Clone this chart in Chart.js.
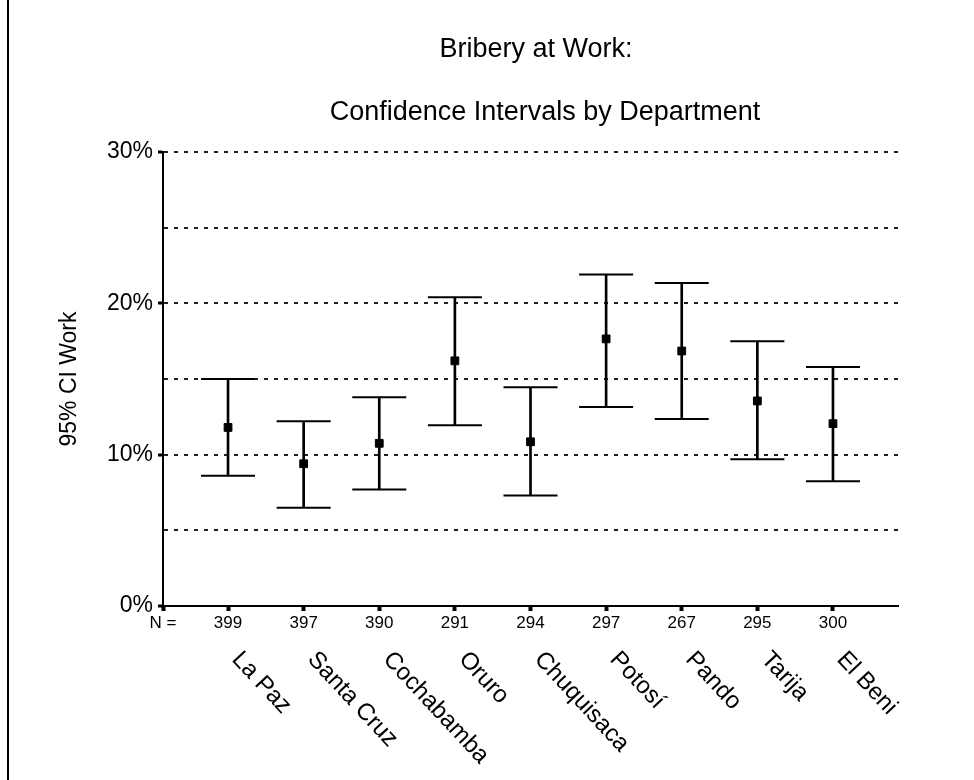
<!DOCTYPE html>
<html>
<head>
<meta charset="utf-8">
<title>Bribery at Work</title>
<script src="https://cdn.jsdelivr.net/npm/chart.js@4/dist/chart.umd.min.js"></script>
<style>
  html, body { margin: 0; padding: 0; background: #fff; }
  #frame { position: relative; width: 974px; height: 780px; }
  /* thin rule down the left edge, as in the scanned page */
  #frame::before { content: ''; position: absolute; left: 7px; top: 0; bottom: 0; width: 2px; background: #000; }
  canvas { display: block; }
</style>
</head>
<body>
<div id="frame"><canvas id="ci-chart" width="974" height="780"></canvas></div>
<script>
  // departments and sample sizes
  var DEPARTMENTS = ['La Paz', 'Santa Cruz', 'Cochabamba', 'Oruro', 'Chuquisaca', 'Potosí', 'Pando', 'Tarija', 'El Beni'];
  var N_SIZES = [399, 397, 390, 291, 294, 297, 267, 295, 300];

  // 95% CI, in percent
  var MEAN  = [11.8, 9.4, 10.75, 16.2, 10.85, 17.65, 16.85, 13.55, 12.05];
  var LOWER = [8.6, 6.5, 7.7, 11.95, 7.3, 13.15, 12.35, 9.7, 8.25];
  var UPPER = [15.0, 12.2, 13.8, 20.4, 14.45, 21.9, 21.35, 17.5, 15.8];

  var TITLE_LINES = ['Bribery at Work:', 'Confidence Intervals by Department'];
  var Y_TITLE = '95% CI Work';
  var N_LABEL = 'N =';

  var FONT = '"Liberation Sans", Arial, sans-serif';
  var X_MIN = -0.86, X_MAX = 8.86;

  function pts(values) {
    return values.map(function (v, i) { return { x: i, y: v }; });
  }

  // two title lines, each centred on its own
  var headings = {
    id: 'headings',
    afterDraw: function (chart) {
      var ctx = chart.ctx;
      ctx.save();
      ctx.fillStyle = '#000';
      ctx.font = '27px ' + FONT;
      ctx.textAlign = 'center';
      ctx.textBaseline = 'alphabetic';
      ctx.fillText(TITLE_LINES[0], 536, 57);
      ctx.fillText(TITLE_LINES[1], 545, 120);
      ctx.restore();
    }
  };

  // department names slanting down to the right under the N row
  var slantLabels = {
    id: 'slantLabels',
    afterDraw: function (chart) {
      var ctx = chart.ctx;
      var xs = chart.scales.x;
      ctx.save();
      ctx.fillStyle = '#000';
      ctx.font = '24px ' + FONT;
      ctx.textAlign = 'left';
      ctx.textBaseline = 'alphabetic';
      DEPARTMENTS.forEach(function (name, i) {
        ctx.save();
        ctx.translate(xs.getPixelForValue(i) + 3, 660);
        ctx.rotate(47 * Math.PI / 180);
        ctx.fillText(name, 0, 0);
        ctx.restore();
      });
      ctx.restore();
    }
  };

  new Chart(document.getElementById('ci-chart'), {
    type: 'scatter',
    data: {
      datasets: [
        {
          label: 'mean',
          data: pts(MEAN),
          pointStyle: 'rect',
          pointRadius: 5.5,
          backgroundColor: '#000',
          borderColor: '#000',
          borderWidth: 1
        },
        {
          label: 'upper',
          data: pts(UPPER),
          pointStyle: 'line',
          pointRadius: 27,
          borderColor: '#000',
          borderWidth: 2
        },
        {
          label: 'lower',
          data: pts(LOWER),
          pointStyle: 'line',
          pointRadius: 27,
          borderColor: '#000',
          borderWidth: 2
        },
        {
          type: 'bar',
          label: 'range',
          data: LOWER.map(function (lo, i) { return { x: i, y: [lo, UPPER[i]] }; }),
          backgroundColor: '#000',
          borderWidth: 0,
          barThickness: 2
        }
      ]
    },
    options: {
      responsive: false,
      animation: false,
      layout: { padding: { top: 152, right: 76, bottom: 0, left: 0 } },
      plugins: {
        legend: { display: false },
        tooltip: { enabled: false },
        title: { display: false }
      },
      scales: {
        x: {
          type: 'linear',
          min: X_MIN,
          max: X_MAX,
          offset: false,
          afterBuildTicks: function (axis) {
            axis.ticks = [{ value: X_MIN }].concat(N_SIZES.map(function (_, i) { return { value: i }; }));
          },
          afterFit: function (axis) { axis.height = 174; },
          ticks: {
            autoSkip: false,
            maxRotation: 0,
            minRotation: 0,
            padding: 2,
            color: '#000',
            font: { family: FONT, size: 17 },
            callback: function (v) { return v === X_MIN ? N_LABEL : N_SIZES[v]; }
          },
          grid: {
            offset: false,
            drawOnChartArea: false,
            drawTicks: true,
            tickLength: 5,
            tickWidth: 4,
            tickColor: '#000'
          },
          border: { display: true, color: '#000', width: 2 }
        },
        y: {
          min: 0,
          max: 30,
          afterFit: function (axis) { axis.width = 163; },
          ticks: {
            stepSize: 5,
            padding: 5,
            color: '#000',
            font: { family: FONT, size: 23 },
            callback: function (v) { return v % 10 === 0 ? v + '%' : ''; }
          },
          grid: {
            color: '#222',
            lineWidth: 2,
            drawTicks: true,
            tickLength: 5,
            tickWidth: 3,
            tickColor: function (c) { return c.tick && c.tick.value % 10 === 0 ? '#000' : 'rgba(0,0,0,0)'; }
          },
          border: { display: true, color: '#000', width: 2, dash: [4, 6] },
          title: {
            display: true,
            text: Y_TITLE,
            color: '#000',
            font: { family: FONT, size: 23 },
            padding: { top: 56, bottom: 0 }
          }
        }
      }
    },
    plugins: [headings, slantLabels]
  });
</script>
</body>
</html>
